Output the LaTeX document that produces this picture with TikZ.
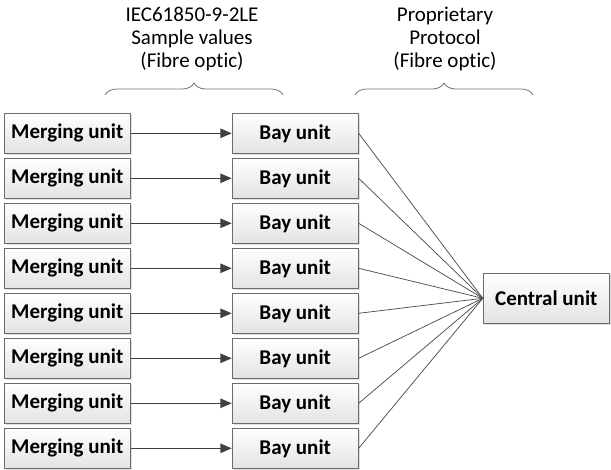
\documentclass[tikz,border=0pt]{standalone}
\usepackage{fontspec}
\setmainfont{Carlito}[Ligatures={NoCommon,NoRare}]
\usetikzlibrary{arrows.meta,shadows,decorations.pathreplacing}
\begin{document}
\begin{tikzpicture}[x=0.75pt,y=-0.75pt,
  unitbox/.style={draw=black!58,line width=0.7pt,top color=white,bottom color=black!11,
    minimum width=94.5pt,minimum height=30pt,inner sep=0pt,
    font=\fontsize{15.75}{17.5}\selectfont\bfseries,
    drop shadow={shadow xshift=1.4pt,shadow yshift=-1.4pt,fill=black!25,opacity=0.5}},
  label/.style={align=center,inner sep=0pt,font=\fontsize{15.75}{17.5}\selectfont},
  feed/.style={draw=black!75,line width=1.1pt,-{Triangle[length=8.5pt,width=7pt]}},
  fan/.style={draw=black!70,line width=0.55pt},
  bracestyle/.style={draw=black!55,line width=0.6pt,decorate,decoration={brace,amplitude=9pt}}]
\useasboundingbox (0,0) rectangle (611,470);
\foreach \k in {0,...,7}{
  \node[unitbox] (m\k) at (67.3,133.3+45*\k) {Merging unit};
  \node[unitbox] (b\k) at (295.2,133.3+45*\k) {Bay unit};
}
\node[unitbox,minimum height=37.5pt] (c) at (546.3,298.3) {Central unit};
\foreach \k in {0,...,7}{
  \draw[feed] (m\k.east) -- (b\k.west);
  \draw[fan] (b\k.east) -- (c.west);
}
\coordinate (l1) at (105,95);
\coordinate (r1) at (283,95);
\coordinate (l2) at (355,95);
\coordinate (r2) at (533,95);
\draw[bracestyle] (l1) -- (r1);
\draw[bracestyle] (l2) -- (r2);
\node[label] (t1) at (192,39) {IEC61850-9-2LE\\Sample values\\(Fibre optic)};
\node[label] (t2) at (445,39) {Proprietary\\Protocol\\(Fibre optic)};
\end{tikzpicture}
\end{document}
